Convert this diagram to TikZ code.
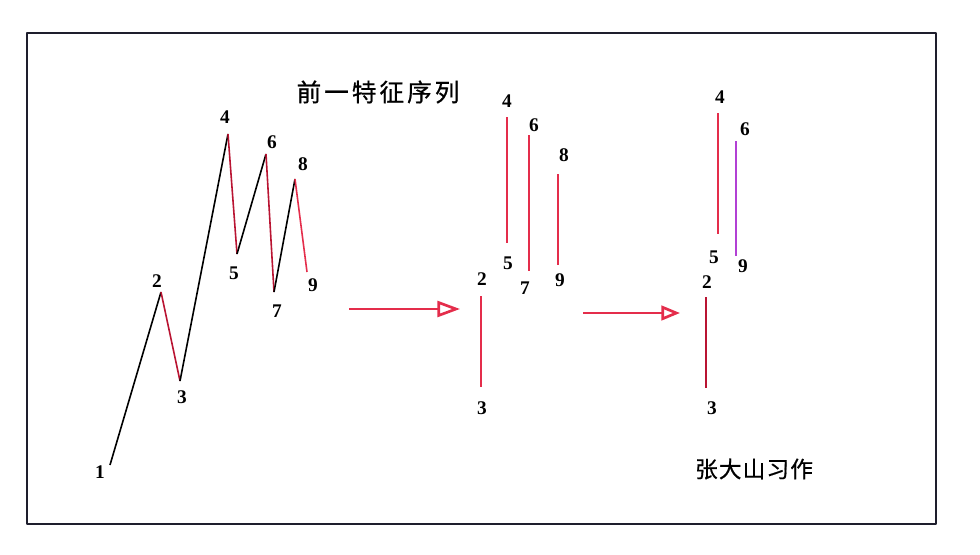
\documentclass[tikz,border=0pt]{standalone}
\usepackage{fontspec}
\setmainfont{Liberation Serif}
\newfontfamily\cjktitle[LetterSpace=12, FakeBold=0.6]{Noto Sans CJK SC}
\newfontfamily\cjksign[LetterSpace=5, FakeBold=0.6]{Noto Sans CJK SC}
\usetikzlibrary{arrows.meta}

\definecolor{legred}{RGB}{185,20,50}
\definecolor{barred}{RGB}{228,45,75}
\definecolor{barpurple}{RGB}{178,64,212}
\definecolor{framegray}{RGB}{30,30,45}

\tikzset{
	upleg/.style={line width=1.2pt, black},
	downleg/.style={line width=1.2pt, legred},
	bar/.style={line width=1.4pt, barred},
	num/.style={inner sep=0pt, font=\bfseries\fontsize{14.5}{16}\selectfont},
	shift arrow/.style={line width=2pt, barred}
}

\begin{document}
\begin{tikzpicture}[x=0.75pt, y=-0.75pt, line join=round]
	\useasboundingbox (0,0) rectangle (980,554);
	\draw[framegray, line width=1.5pt] (27,33) rectangle (936,524); % рамка

	% 走势
	\coordinate (p1) at (110,465);
	\coordinate (p2) at (161,292);
	\coordinate (p3) at (180,381);
	\coordinate (p4) at (228,134);
	\coordinate (p5) at (237,254);
	\coordinate (p6) at (266,154);
	\coordinate (p7) at (274,292);
	\coordinate (p8) at (295,179);
	\coordinate (p9) at (307,272);
	\draw[upleg] (p1) -- (p2);
	\draw[downleg] (p2) -- (p3);
	\draw[upleg] (p3) -- (p4);
	\draw[downleg] (p4) -- (p5);
	\draw[upleg] (p5) -- (p6);
	\draw[downleg] (p6) -- (p7);
	\draw[upleg] (p7) -- (p8);
	\draw[downleg, barred] (p8) -- (p9);

	% 特征序列
	\coordinate (m2) at (481,296); \coordinate (m3) at (481,387);
	\coordinate (m4) at (507,117); \coordinate (m5) at (507,243);
	\coordinate (m6) at (529,135); \coordinate (m7) at (529,271);
	\coordinate (m8) at (558,174); \coordinate (m9) at (558,265);
	\draw[bar] (m2) -- (m3);
	\draw[bar] (m4) -- (m5);
	\draw[bar] (m6) -- (m7);
	\draw[bar] (m8) -- (m9);

	% 合并以后
	\coordinate (r2) at (706,297); \coordinate (r3) at (706,388);
	\coordinate (r4) at (718,113); \coordinate (r5) at (718,234);
	\coordinate (r6) at (736,141); \coordinate (r9) at (736,256);
	\draw[bar, legred] (r2) -- (r3);
	\draw[bar] (r4) -- (r5);
	\draw[bar, barpurple] (r6) -- (r9);

	% 箭头
	\coordinate (a1) at (349,309); \coordinate (a2) at (460,309);
	\coordinate (a3) at (583,313); \coordinate (a4) at (680,313);
	\draw[shift arrow, -{Triangle[open, fill=white, length=17pt, width=12pt]}] (a1) -- (a2);
	\draw[shift arrow, -{Triangle[open, fill=white, length=14pt, width=11pt]}] (a3) -- (a4);

	\node (n1) [num] at (100,472) {1};
	\node (n2) [num] at (157,281) {2};
	\node (n3) [num] at (182,397) {3};
	\node (n4) [num] at (225,117) {4};
	\node (n5) [num] at (234,273) {5};
	\node (n6) [num] at (272,142) {6};
	\node (n7) [num] at (277,311) {7};
	\node (n8) [num] at (303,164) {8};
	\node (n9) [num] at (313,285) {9};

	\node (k2) [num] at (482,279) {2};
	\node (k3) [num] at (482,408) {3};
	\node (k4) [num] at (507,101) {4};
	\node (k5) [num] at (508,263) {5};
	\node (k6) [num] at (534,125) {6};
	\node (k7) [num] at (525,288) {7};
	\node (k8) [num] at (564,155) {8};
	\node (k9) [num] at (560,280) {9};

	\node (q2) [num] at (707,282) {2};
	\node (q3) [num] at (712,408) {3};
	\node (q4) [num] at (720,97) {4};
	\node (q5) [num] at (714,257) {5};
	\node (q6) [num] at (745,129) {6};
	\node (q9) [num] at (743,266) {9};

	\node (title) [inner sep=0pt, font=\cjktitle\fontsize{18.5}{20}\selectfont] at (378,92) {前一特征序列};
	\node (sign) [inner sep=0pt, font=\cjksign\fontsize{17}{18}\selectfont] at (754,469) {张大山习作};
\end{tikzpicture}
\end{document}
